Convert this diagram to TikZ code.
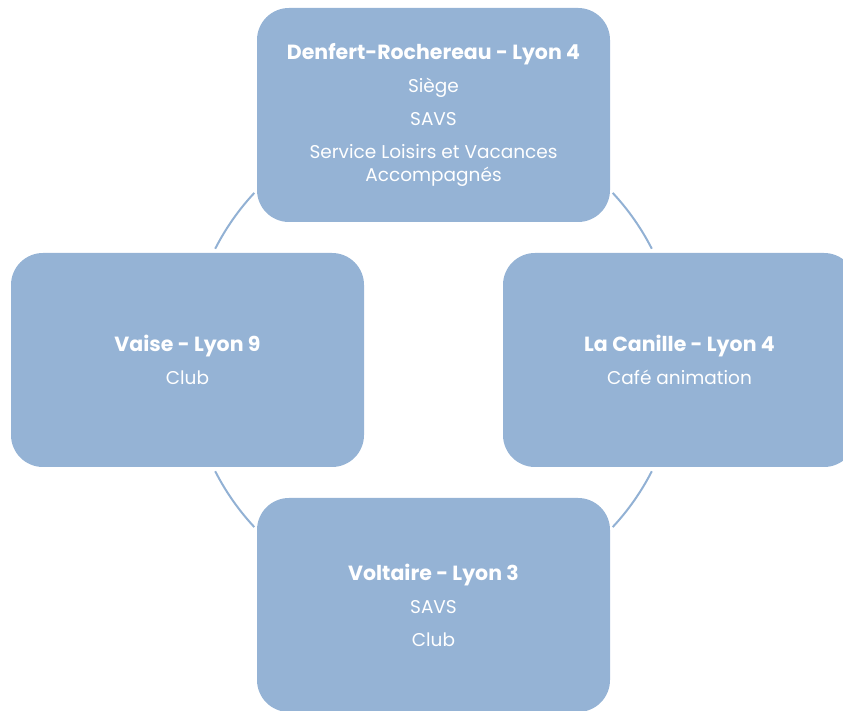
\documentclass[tikz,border=0pt]{standalone}
\usepackage{fontspec}
\setmainfont{Poppins}
\usetikzlibrary{positioning}
\definecolor{SiteFill}{RGB}{149,179,213}
\definecolor{SiteRing}{RGB}{146,177,212}
\tikzset{
  site box/.style={
    fill=SiteFill,
    rounded corners=32pt,
    minimum width=353pt,
    minimum height=214pt,
    inner sep=0pt,
    align=center,
    text=white,
    font=\fontsize{18.5}{23}\selectfont
  },
  site ring/.style={SiteRing, line width=2pt}
}
\newcommand{\sitename}[1]{{\fontsize{20.5}{23}\selectfont\bfseries #1}}

\begin{document}
\begin{tikzpicture}[x=1pt, y=1pt]
\clip (0,0) rectangle (843,711);
\coordinate (hub) at (433.5,351);
% ring pieces in the gaps between the sites
\foreach \s/\e in {27/43,137/153,207/223,317/333}
  \draw[site ring] ([shift={(\s:245)}]hub) arc[start angle=\s, end angle=\e, radius=245];
\node[site box] (denfert) at ([yshift=245pt]hub) {\sitename{Denfert-Rochereau - Lyon 4}\\[10pt]
  Siège\\[10pt] SAVS\\[10pt] Service Loisirs et Vacances\\Accompagnés};
\node[site box] (vaise) at ([xshift=-246pt]hub) {\sitename{Vaise - Lyon 9}\\[10pt] Club};
\node[site box] (canille) at ([xshift=246pt]hub) {\sitename{La Canille - Lyon 4}\\[10pt] Café animation};
\node[site box] (voltaire) at ([yshift=-245pt]hub) {\sitename{Voltaire - Lyon 3}\\[10pt] SAVS\\[10pt] Club};
\end{tikzpicture}
\end{document}
